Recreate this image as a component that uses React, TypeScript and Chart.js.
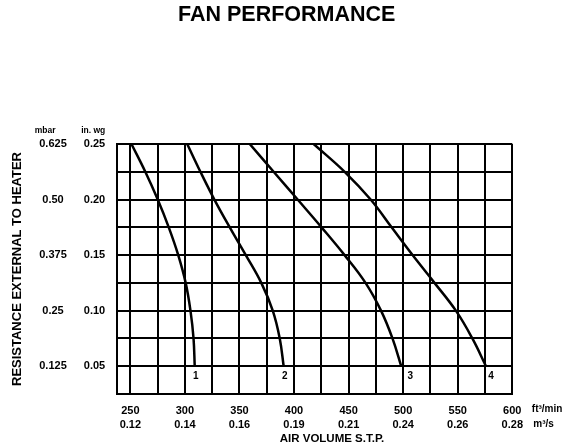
import React, { useEffect, useRef } from 'react';
import { Chart, registerables } from 'chart.js';

Chart.register(...registerables);

// ---- data ----
const xGrid = [250, 275, 300, 325, 350, 375, 400, 425, 450, 475, 500, 525, 550, 575, 600];
const xLabelValues = [250, 300, 350, 400, 450, 500, 550, 600];
const xLabelsFt = ['250', '300', '350', '400', '450', '500', '550', '600'];
const xLabelsM3 = ['0.12', '0.14', '0.16', '0.19', '0.21', '0.24', '0.26', '0.28'];

const yGrid = [0.025, 0.05, 0.075, 0.1, 0.125, 0.15, 0.175, 0.2, 0.225, 0.25];
const inWgValues = [0.05, 0.1, 0.15, 0.2, 0.25];
const inWgLabels = ['0.05', '0.10', '0.15', '0.20', '0.25'];
const mbarValues = [0.125, 0.25, 0.375, 0.5, 0.625];
const mbarLabels = ['0.125', '0.25', '0.375', '0.50', '0.625'];

const resistanceInWg = [0.25, 0.225, 0.2, 0.175, 0.15, 0.125, 0.1, 0.075, 0.05];
const fan1Volume = [251.0, 263.7, 275.1, 285.2, 293.9, 300.7, 305.1, 307.9, 309.0];
const fan2Volume = [302.1, 314.2, 327.0, 341.1, 355.8, 370.0, 380.5, 386.9, 390.5];
const fan3Volume = [359.4, 381.3, 403.3, 425.2, 446.3, 465.5, 479.7, 490.2, 498.2];
const fan4Volume = [418.0, 446.4, 470.2, 489.4, 508.6, 528.7, 548.3, 563.4, 575.9];
const curveNames = ['1', '2', '3', '4'];

// ---- layout / style config ----
const FONT = '"Liberation Sans", Arial, sans-serif';
const labelDx = [1, 1, 9, 5];

const near = (a: number, b: number) => Math.abs(a - b) < 1e-9;

const textPlugin = {
  id: 'extraText',
  afterDraw(chart: any) {
    const { ctx, chartArea, scales } = chart;
    ctx.save();
    ctx.fillStyle = '#000';
    ctx.textBaseline = 'middle';
    ctx.textAlign = 'center';
    ctx.font = `bold 10px ${FONT}`;
    chart.data.datasets.forEach((ds: any, i: number) => {
      const last = ds.data[ds.data.length - 1];
      const px = scales.x.getPixelForValue(last.x) + labelDx[i];
      const py = scales.y.getPixelForValue(last.y) + 10.5;
      ctx.fillText(curveNames[i], px, py);
    });
    ctx.font = `bold 8.5px ${FONT}`;
    ctx.fillText('mbar', chartArea.left - 71.5, chartArea.top - 13.5);
    ctx.fillText('in. wg', chartArea.left - 23.5, chartArea.top - 13.5);
    ctx.textAlign = 'left';
    ctx.font = `bold 10px ${FONT}`;
    ctx.fillText('ft³/min', chartArea.right + 19.5, chartArea.bottom + 15);
    ctx.fillText('m³/s', chartArea.right + 21, chartArea.bottom + 30);
    ctx.textAlign = 'center';
    ctx.font = `bold 11.5px ${FONT}`;
    ctx.fillText('AIR VOLUME S.T.P.', (chartArea.left + chartArea.right) / 2 + 17.5, chartArea.bottom + 45);
    ctx.restore();
  },
};

export default function App() {
  const canvasRef = useRef<HTMLCanvasElement | null>(null);

  useEffect(() => {
    if (!canvasRef.current) return;
    const mk = (vols: number[]) => vols.map((v, i) => ({ x: v, y: resistanceInWg[i] }));
    const curveStyle = {
      showLine: true,
      borderColor: '#000',
      backgroundColor: '#000',
      borderWidth: 2.5,
      pointRadius: 0,
      tension: 0.4,
      fill: false,
    };
    const chart = new Chart(canvasRef.current, {
      type: 'scatter',
      data: {
        datasets: [
          { label: 'Fan 1', data: mk(fan1Volume), ...curveStyle },
          { label: 'Fan 2', data: mk(fan2Volume), ...curveStyle },
          { label: 'Fan 3', data: mk(fan3Volume), ...curveStyle },
          { label: 'Fan 4', data: mk(fan4Volume), ...curveStyle },
        ],
      },
      options: {
        responsive: false,
        animation: false,
        events: [],
        layout: { padding: { left: 9.4, right: 0, top: 0, bottom: 0 } },
        plugins: {
          legend: { display: false },
          tooltip: { enabled: false },
          title: {
            display: true,
            text: 'FAN PERFORMANCE',
            color: '#000',
            font: { family: FONT, size: 21.5, weight: 'bold', lineHeight: 1.2 },
            padding: { top: 2.1, bottom: 116.1 },
          },
        },
        scales: {
          x: {
            type: 'linear',
            position: 'bottom',
            min: 237.5,
            max: 600,
            afterBuildTicks: (s: any) => {
              s.ticks = xGrid.map((v) => ({ value: v }));
            },
            afterFit: (s: any) => {
              s.height = 52;
            },
            grid: { color: '#000', lineWidth: 2, drawTicks: false },
            border: { display: true, color: '#000', width: 2 },
            ticks: {
              autoSkip: false,
              maxRotation: 0,
              padding: 10,
              color: '#000',
              font: { family: FONT, size: 11, weight: 'bold', lineHeight: 14 / 11 },
              callback: (v: any) => {
                const i = xLabelValues.findIndex((t) => near(t, Number(v)));
                return i >= 0 ? [xLabelsFt[i], xLabelsM3[i]] : '';
              },
            },
          },
          y: {
            type: 'linear',
            position: 'left',
            weight: 0,
            min: 0.025,
            max: 0.25,
            afterBuildTicks: (s: any) => {
              s.ticks = yGrid.map((v) => ({ value: v }));
            },
            afterFit: (s: any) => {
              s.width = 45.95;
            },
            grid: { color: '#000', lineWidth: 2, drawTicks: false },
            border: { display: true, color: '#000', width: 2 },
            ticks: {
              autoSkip: false,
              padding: 11.5,
              color: '#000',
              font: { family: FONT, size: 11, weight: 'bold' },
              callback: (v: any) => {
                const i = inWgValues.findIndex((t) => near(t, Number(v)));
                return i >= 0 ? inWgLabels[i] : '';
              },
            },
          },
          y2: {
            type: 'linear',
            position: 'left',
            weight: 1,
            min: 0.0625,
            max: 0.625,
            afterBuildTicks: (s: any) => {
              s.ticks = mbarValues.map((v) => ({ value: v }));
            },
            afterFit: (s: any) => {
              s.width = 61.35;
            },
            grid: { display: false, drawTicks: false },
            border: { display: false },
            title: {
              display: true,
              text: 'RESISTANCE EXTERNAL TO HEATER',
              color: '#000',
              font: { family: FONT, size: 13, weight: 'bold', lineHeight: 1.2 },
              padding: { top: 0, bottom: 0 },
            },
            ticks: {
              autoSkip: false,
              crossAlign: 'center',
              padding: 4,
              color: '#000',
              font: { family: FONT, size: 11, weight: 'bold' },
              callback: (v: any) => {
                const i = mbarValues.findIndex((t) => near(t, Number(v)));
                return i >= 0 ? mbarLabels[i] : '';
              },
            },
          },
          yRightSpace: {
            type: 'linear',
            position: 'right',
            display: true,
            min: 0,
            max: 1,
            afterFit: (s: any) => {
              s.width = 51.7;
            },
            grid: { display: false, drawTicks: false },
            border: { display: false },
            ticks: { display: false },
          },
        },
      } as any,
      plugins: [textPlugin],
    });
    return () => chart.destroy();
  }, []);

  return (
    <div style={{ position: 'fixed', left: 0, top: 0, width: 564, height: 446, background: '#fff' }}>
      <canvas ref={canvasRef} width={564} height={446} style={{ display: 'block' }} />
    </div>
  );
}
